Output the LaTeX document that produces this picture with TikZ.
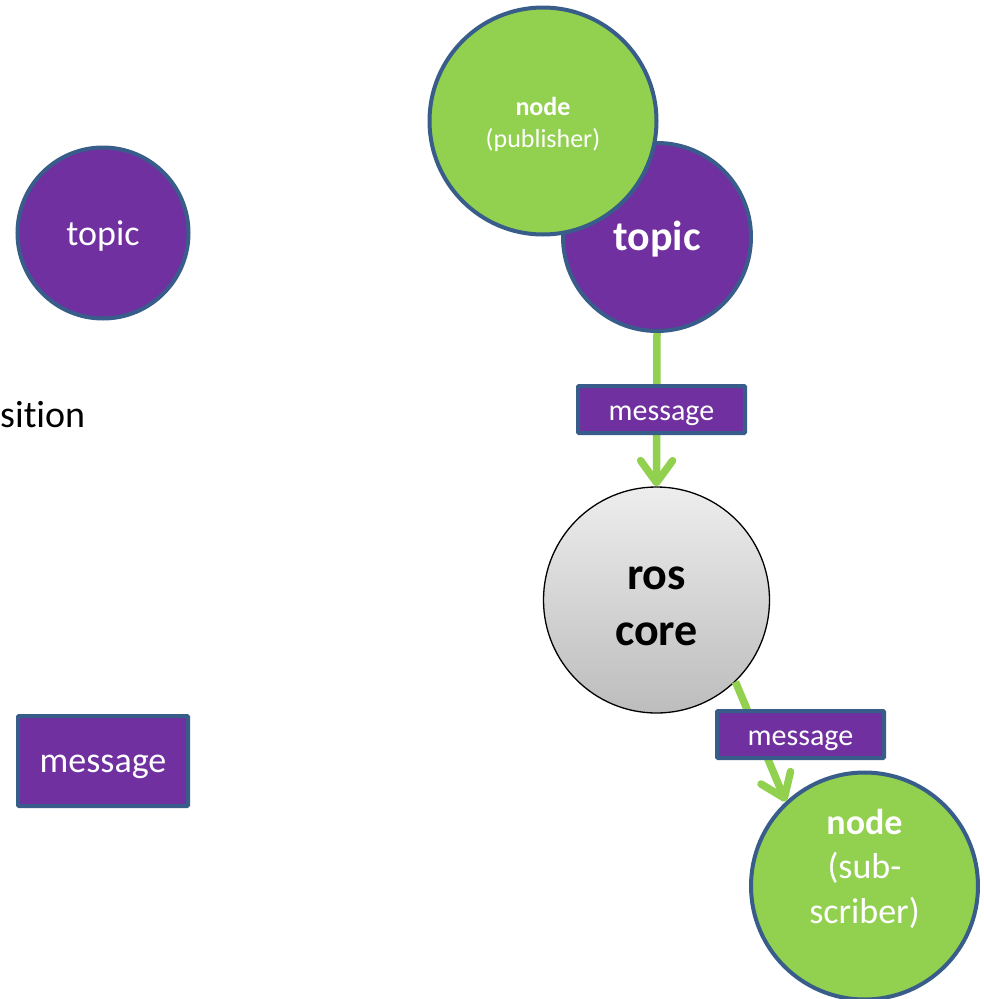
\documentclass[tikz,border=0pt]{standalone}
\usepackage{fontspec}
\setmainfont{Carlito}[Ligatures=NoCommon]
\usetikzlibrary{arrows.meta}
\definecolor{rpurple}{HTML}{7030A0}
\definecolor{rgreen}{HTML}{92D050}
\definecolor{rblue}{HTML}{385D8A}
\tikzset{
  topiccirc/.style={circle, draw=rblue, line width=4pt, fill=rpurple, inner sep=0pt},
  nodecirc/.style={circle, draw=rblue, line width=4pt, fill=rgreen, inner sep=0pt},
  msgbox/.style={rectangle, draw=rblue, line width=4pt, fill=rpurple, text=white, inner sep=0pt, rounded corners=1pt, text depth=0pt},
  corecirc/.style={circle, draw=black, line width=1.3pt, top color=black!7, bottom color=black!26, inner sep=0pt},
  lbl/.style={anchor=base, inner sep=0pt, text=white, font=\fontsize{#1}{#1}\selectfont},
  lblb/.style={anchor=base, inner sep=0pt, text=white, font=\fontsize{#1}{#1}\selectfont\bfseries},
  flow/.style={draw=rgreen, line width=7.5pt, -{Straight Barb[length=22pt, width=32pt, round]}}
}
\begin{document}
\begin{tikzpicture}[x=1pt, y=-1pt]
\useasboundingbox (0,0) rectangle (984,999);
% left legend
\node[topiccirc, minimum size=171pt] (topicL) at (103,233) {};
\node[lbl=36] (topicLtxt) at (103,245) {topic};
\node[anchor=base west, inner sep=0pt, text=black, font=\fontsize{38}{38}\selectfont] (sition) at (0,427) {sition};
\node[msgbox, minimum width=170pt, minimum height=90pt, text height=22pt, font=\fontsize{36}{36}\selectfont] (msgL) at (103,761) {message};
% right diagram
\node[topiccirc, minimum size=188pt] (topicR) at (657,237) {};
\node[lblb=42] (topicRtxt) at (657,250) {topic};
\node[nodecirc, minimum size=227pt] (pub) at (543,121) {};
\node[lblb=26] (pub1) at (543,115) {node};
\node[lbl=26] (pub2) at (543,147) {(publisher)};
\node[corecirc, minimum size=226pt] (core) at (656.5,600) {};
\node[lblb=46, text=black] (core1) at (656.5,589) {ros};
\node[lblb=46, text=black] (core2) at (656.5,645) {core};
\node[nodecirc, minimum size=227pt] (sub) at (864.5,886) {};
\node[lblb=36] (sub1) at (864.5,834) {node};
\node[lbl=36] (sub2) at (864.5,878) {(sub-};
\node[lbl=36] (sub3) at (864.5,923) {scriber)};
% flows
\draw[flow] (topicR.south) -- (core.north);
\draw[flow] (core.-46) -- (sub.133);
% message labels
\node[msgbox, minimum width=167pt, minimum height=47pt, text height=21pt, font=\fontsize{30}{30}\selectfont] (msg1) at (661.5,409.5) {message};
\node[msgbox, minimum width=167pt, minimum height=47pt, text height=21pt, font=\fontsize{30}{30}\selectfont] (msg2) at (800.5,734.5) {message};
\end{tikzpicture}
\end{document}
